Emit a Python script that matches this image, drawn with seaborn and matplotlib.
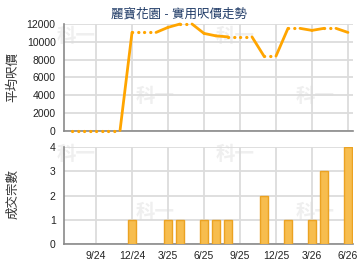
import numpy as np
import pandas as pd
import matplotlib
matplotlib.use("Agg")
import matplotlib.pyplot as plt
import seaborn as sns

# ---- data ----
months = ["7/24", "8/24", "9/24", "10/24", "11/24", "12/24",
          "1/25", "2/25", "3/25", "4/25", "5/25", "6/25",
          "7/25", "8/25", "9/25", "10/25", "11/25", "12/25",
          "1/26", "2/26", "3/26", "4/26", "5/26", "6/26"]
price = [0, 0, 0, 0, 0, 11050,
         11050, 11050, 11620, 12000, 12000, 10940,
         10660, 10550, 10550, 10550, 8380, 8380,
         11510, 11510, 11280, 11510, 11510, 11050]
deals = [0, 0, 0, 0, 0, 1,
         0, 0, 1, 1, 0, 1,
         1, 1, 0, 0, 2, 0,
         1, 0, 1, 3, 0, 4]
xtick_labels = ["9/24", "12/24", "3/25", "6/25", "9/25", "12/25", "3/26", "6/26"]
price_ticks = [0, 2000, 4000, 6000, 8000, 10000, 12000]
deal_ticks = [0, 1, 2, 3, 4]

title = "麗寶花園 - 實用呎價走勢"
ylabel_top = "平均呎價"
ylabel_bot = "成交宗數"

sns.set_theme(style="white")
plt.rcParams['font.family'] = ['Liberation Sans', 'Noto Sans CJK TC', 'DejaVu Sans']

df = pd.DataFrame({"month": months, "idx": np.arange(len(months)),
                   "price": price, "deals": deals})
tick_pos = [df.index[df.month == m][0] for m in xtick_labels]

fig = plt.figure(figsize=(3.6, 2.7), dpi=100)
W, H = 360, 270
def rect(l, t, r, b):
    return [l / W, 1 - b / H, (r - l) / W, (b - t) / H]

ax1 = fig.add_axes(rect(64, 24, 353, 130.5))
ax2 = fig.add_axes(rect(64, 147, 353, 244))

grid_c = "#dcdcdc"
spine_c = "#8a8a8a"
xlim = (-0.67, 23.42)

# watermark
wm_c = "#efefef"
for (x, y) in [(76, 36), (155, 96), (235, 36), (315, 96),
               (76, 154), (155, 213), (235, 154), (315, 213)]:
    fig.text(x / W, 1 - y / H, "科一", fontsize=14, fontweight="bold",
             color=wm_c, ha="center", va="center", zorder=-1,
             family=['Noto Sans CJK TC'])

for ax in (ax1, ax2):
    ax.set_facecolor("none")
    ax.set_xlim(*xlim)
    ax.set_xticks(tick_pos)
    for s in ("top", "right"):
        ax.spines[s].set_visible(False)
    for s in ("left", "bottom"):
        ax.spines[s].set_color(spine_c)
        ax.spines[s].set_linewidth(1.2)
    ax.grid(True, color=grid_c, linewidth=1.3)
    ax.set_axisbelow(True)
    ax.tick_params(axis="y", length=0, pad=6, labelsize=7.5, colors="#222222")

# top line chart
ax1.set_ylim(0, 12000)
ax1.set_yticks(price_ticks)
ax1.set_xticklabels([])
ax1.tick_params(axis="x", length=0)
line_c = "#ffa500"
for i in range(1, len(df)):
    seg = df.iloc[i - 1:i + 1]
    solid = df.deals.iloc[i] > 0
    sns.lineplot(data=seg, x="idx", y="price", ax=ax1, color=line_c,
                 linewidth=2.0 if solid else 2.3,
                 linestyle="-" if solid else (0, (0.05, 1.9)),
                 dash_capstyle="round", solid_capstyle="round",
                 clip_on=False, zorder=3)
ax1.set_xlabel("")
ax1.set_ylabel("")
ax1.set_xlim(*xlim)

# bottom bar chart
sub = df[df.deals > 0]
sns.barplot(data=sub, x="idx", y="deals", native_scale=True, ax=ax2,
            color="#f7bd4e", edgecolor="#eba222", linewidth=1.0,
            width=0.62, saturation=1, zorder=3)
ax2.set_xlim(*xlim)
ax2.set_ylim(0, 4)
ax2.set_yticks(deal_ticks)
ax2.set_xticks(tick_pos)
ax2.set_xticklabels(xtick_labels)
ax2.tick_params(axis="x", length=3, width=1, color=spine_c, pad=2,
                labelsize=7.5, labelcolor="#222222")
ax2.set_xlabel("")
ax2.set_ylabel("")

fig.text(13.5 / W, 1 - 77 / H, ylabel_top, rotation=90, ha="center",
         va="center", fontsize=9, color="#333333")
fig.text(13.5 / W, 1 - 194 / H, ylabel_bot, rotation=90, ha="center",
         va="center", fontsize=9, color="#333333")

fig.text(179 / W, 1 - 14 / H, title, ha="center", va="center",
         fontsize=9, color="#1f3a66")

fig.savefig("out.png", dpi=100)
